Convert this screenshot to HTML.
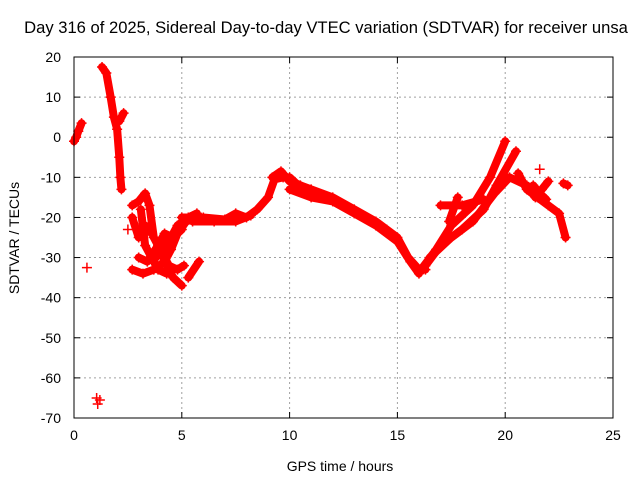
<!DOCTYPE html>
<html><head><meta charset="utf-8"><style>
html,body{margin:0;padding:0;background:#fff;}
svg text{font-family:"Liberation Sans",sans-serif;font-size:14px;fill:#000;}
</style></head><body>
<svg id="chart" width="640" height="480" viewBox="0 0 640 480" xmlns="http://www.w3.org/2000/svg">
<rect width="640" height="480" fill="#fff"/>
<text x="326" y="33" text-anchor="middle" style="font-size:16.6px">Day 316 of 2025, Sidereal Day-to-day VTEC variation (SDTVAR) for receiver unsa</text>
<g id="grid"></g>
<g id="ticks"></g>
<g id="marks"></g>
<rect x="74" y="57" width="539" height="361" fill="none" stroke="#000" stroke-width="1"/>
<text x="340" y="471" text-anchor="middle">GPS time / hours</text>
<text transform="translate(19,238) rotate(-90)" text-anchor="middle">SDTVAR / TECUs</text>
</svg>
<script>
const xTicks = [0,5,10,15,20,25];
const yTicks = [20,10,0,-10,-20,-30,-40,-50,-60,-70];
const trackA = [[0,-1],[0.1,0],[0.2,1.5],[0.35,3.5]];
const trackB = [[1.3,17.5],[1.5,16],[1.7,10],[1.85,5],[2.0,2],[2.1,-5],[2.15,-10],[2.2,-13]];
const trackB2 = [[2.1,4],[2.3,6]];
const isolated = [[0.6,-32.5],[1.05,-65],[1.1,-66.5],[1.2,-65.5],[2.5,-23],[21.6,-8]];
const cluster1 = [[2.7,-17],[3.0,-16],[3.3,-14],[3.5,-17],[3.7,-25],[4.0,-28],[4.3,-32],[4.6,-35],[5.0,-37]];
const cluster2 = [[2.7,-33],[3.2,-34],[3.7,-33],[4.2,-31],[4.5,-28],[4.8,-24],[5.2,-21],[5.8,-20]];
const cluster3 = [[3.8,-30],[4.3,-27],[4.8,-22],[5.3,-20],[5.7,-19]];
const cluster4 = [[4.0,-28],[4.4,-32],[4.8,-33],[5.1,-32]];
const cluster5 = [[5.3,-35],[5.8,-31]];
const cluster6 = [[2.7,-20],[3.0,-25],[3.3,-22],[3.6,-24]];
const cluster7 = [[3.0,-30],[3.4,-31],[3.9,-27],[4.2,-24],[4.6,-25],[5.0,-23]];
const cluster8 = [[3.1,-18],[3.3,-27],[3.6,-30],[3.9,-33],[4.3,-34]];
const band1 = [[5,-20],[6,-20],[7,-20.5],[7.5,-19],[8,-20],[8.5,-18],[9,-15],[9.3,-10.5],[9.7,-10],[10,-10],[10.3,-11.5],[10.5,-12]];
const band1b = [[5.5,-21],[6.5,-21],[7.5,-21],[8.2,-19.5]];
const band2 = [[9.2,-10],[9.6,-8.5],[10,-11],[11,-13],[12,-15],[13,-18],[14,-21],[14.5,-23],[15,-25],[15.5,-30],[16,-33],[16.3,-33]];
const band3 = [[10,-13],[11,-15],[12,-16],[13,-19],[14,-22],[15,-26],[15.6,-31],[16,-34]];
const rise1 = [[16.1,-33],[16.8,-28],[17.5,-22],[18.5,-17],[19.3,-10],[20,-1]];
const rise2 = [[16.3,-32],[17,-27],[18,-23],[19,-18],[19.6,-12],[20.5,-3.5]];
const rise3 = [[16.5,-30],[17.5,-25],[18.5,-21],[19.5,-14],[20.2,-10],[21,-12],[21.4,-15]];
const flat1 = [[17,-17],[18,-17],[19,-15.5]];
const flat2 = [[17.4,-21],[17.8,-15]];
const tail1 = [[20.6,-9],[21,-13],[21.5,-15],[22,-17],[22.5,-19],[22.8,-25]];
const tail2 = [[21.3,-12],[21.6,-14],[21.9,-15.5]];
const tail3 = [[21.7,-13],[22.0,-11]];
const tail4 = [[22.7,-11.5],[22.9,-12]];
const tracks = [trackA,trackB,trackB2,cluster1,cluster2,cluster3,cluster4,cluster5,cluster6,cluster7,cluster8,band1,band1b,band2,band3,rise1,rise2,rise3,flat1,flat2,tail1,tail2,tail3,tail4];

const X0=74,X1=613,Y0=57,Y1=418;
const xs = h => X0 + (h-0)/(25-0)*(X1-X0);
const ys = v => Y0 + (20-v)/(90)*(Y1-Y0);
const NS="http://www.w3.org/2000/svg";
const grid=document.getElementById('grid'), ticks=document.getElementById('ticks'), marks=document.getElementById('marks');
function mk(tag,attrs,parent){const e=document.createElementNS(NS,tag);for(const k in attrs)e.setAttribute(k,attrs[k]);parent.appendChild(e);return e;}
xTicks.forEach(t=>{
  const x=xs(t);
  if(t>0&&t<25){const g=mk('line',{x1:x,y1:Y0,x2:x,y2:Y1,stroke:'#a0a0a0','stroke-dasharray':'2,3'},grid);
  
  }
  mk('line',{x1:x,y1:Y1,x2:x,y2:Y1-6,stroke:'#000'},ticks);
  mk('line',{x1:x,y1:Y0,x2:x,y2:Y0+6,stroke:'#000'},ticks);
  const tx=mk('text',{x:x,y:Y1+22,'text-anchor':'middle'},ticks);tx.textContent=t;
  
  
});
yTicks.forEach(t=>{
  const y=ys(t);
  if(t<20&&t>-70){const g=mk('line',{x1:X0,y1:y,x2:X1,y2:y,stroke:'#a0a0a0','stroke-dasharray':'2,3'},grid);
  
  }
  mk('line',{x1:X0,y1:y,x2:X0+6,y2:y,stroke:'#000'},ticks);
  mk('line',{x1:X1,y1:y,x2:X1-6,y2:y,stroke:'#000'},ticks);
  const tx=mk('text',{x:X0-13,y:y+5,'text-anchor':'end'},ticks);tx.textContent=t;
  
  
});
tracks.forEach(tr=>{
  const pl=mk('polyline',{points:tr.map(p=>xs(p[0])+','+ys(p[1])).join(' '),fill:'none',stroke:'#f00','stroke-width':8,'stroke-linejoin':'round','stroke-linecap':'round'},marks);
  
  
});
tracks.concat([isolated]).forEach(tr=>tr.forEach(p=>{
  const x=xs(p[0]),y=ys(p[1]);
  const m=mk('path',{d:`M${x-5},${y}H${x+5}M${x},${y-5}V${y+5}`,stroke:'#f00','stroke-width':1.5},marks);
  
  
}));
</script>
</body></html>
